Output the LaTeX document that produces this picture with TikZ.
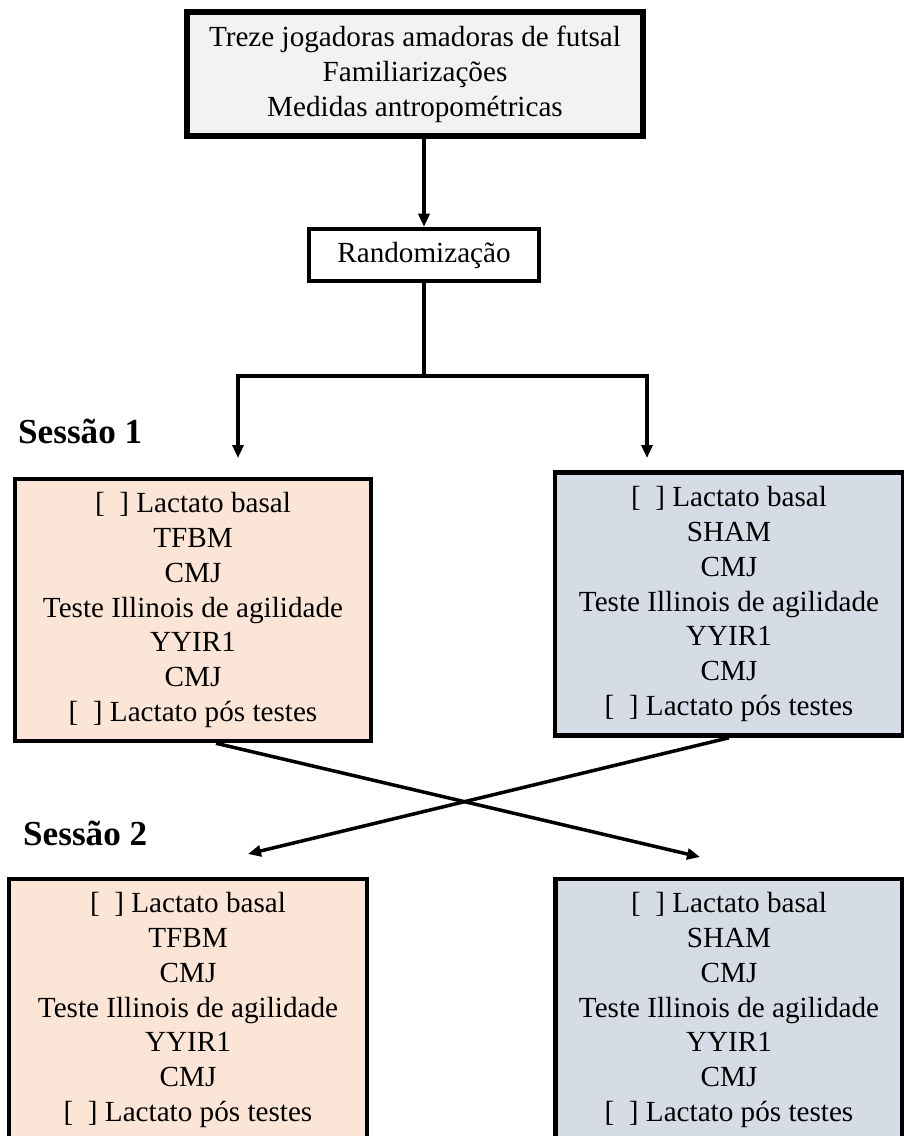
\documentclass[tikz,border=0pt]{standalone}
\usepackage{fontspec}
\setmainfont{Liberation Serif}
\usetikzlibrary{arrows.meta,positioning}

\definecolor{cinzaclaro}{HTML}{F2F2F2}
\definecolor{pessego}{HTML}{FBE5D6}
\definecolor{azulcinza}{HTML}{D6DCE5}

\newcommand{\protocolo}[1]{{[}\ \ ] Lactato basal\\#1\\CMJ\\Teste Illinois de agilidade\\YYIR1\\CMJ\\{[}\ \ ] Lactato pós testes}

\begin{document}
\begin{tikzpicture}[x=0.02cm, y=-0.02cm,
  caixa/.style={draw, line width=2.6pt, align=center, inner sep=0pt, font=\fontsize{16.6}{19.9}\selectfont},
  seta/.style={line width=2pt, -{Triangle[length=0.26cm, width=0.22cm]}},
  sessao/.style={anchor=base west, font=\fontsize{20}{23}\selectfont\bfseries}]
\useasboundingbox (0,0) rectangle (903,1136);

% participantes
\node[caixa, fill=cinzaclaro, line width=3.2pt, minimum width=9.12cm, minimum height=2.48cm] (amostra) at (415,74) {Treze jogadoras amadoras de futsal\\Familiarizações\\Medidas antropométricas};

% randomização
\node[caixa, minimum width=4.6cm, minimum height=1.04cm] (rand) at (424,255) {Randomização};

% sessão 1
\node[sessao] (s1) at (12,443) {Sessão 1};
\node[caixa, fill=pessego, minimum width=7.12cm, minimum height=5.24cm] (tfbm1) at (193,610) {\protocolo{TFBM}};
\node[caixa, fill=azulcinza, minimum width=6.96cm, minimum height=5.26cm] (sham1) at (729,604) {\protocolo{SHAM}};

% sessão 2
\node[sessao] (s2) at (17,845) {Sessão 2};
\node[caixa, fill=pessego, minimum width=7.16cm, minimum height=5.24cm] (tfbm2) at (188,1010) {\protocolo{TFBM}};
\node[caixa, fill=azulcinza, minimum width=6.94cm, minimum height=5.24cm] (sham2) at (729,1010) {\protocolo{SHAM}};

% pontos das setas
\coordinate (divisao) at (424,376);
\coordinate (fim1) at (238,458);
\coordinate (fim2) at (647,458);
\coordinate (fim3) at (700,857);
\coordinate (fim4) at (248,854);

% conexões
\draw[seta] (amostra.south -| rand.north) -- (rand.north);
\draw[line width=2pt] (rand.south) -- (divisao);
\draw[seta] (divisao) -| (fim1);
\draw[seta] (divisao) -| (fim2);
\draw[seta] ([xshift=0.46cm]tfbm1.south) -- (fim3);
\draw[seta] (sham1.south) -- (fim4);
\end{tikzpicture}
\end{document}
